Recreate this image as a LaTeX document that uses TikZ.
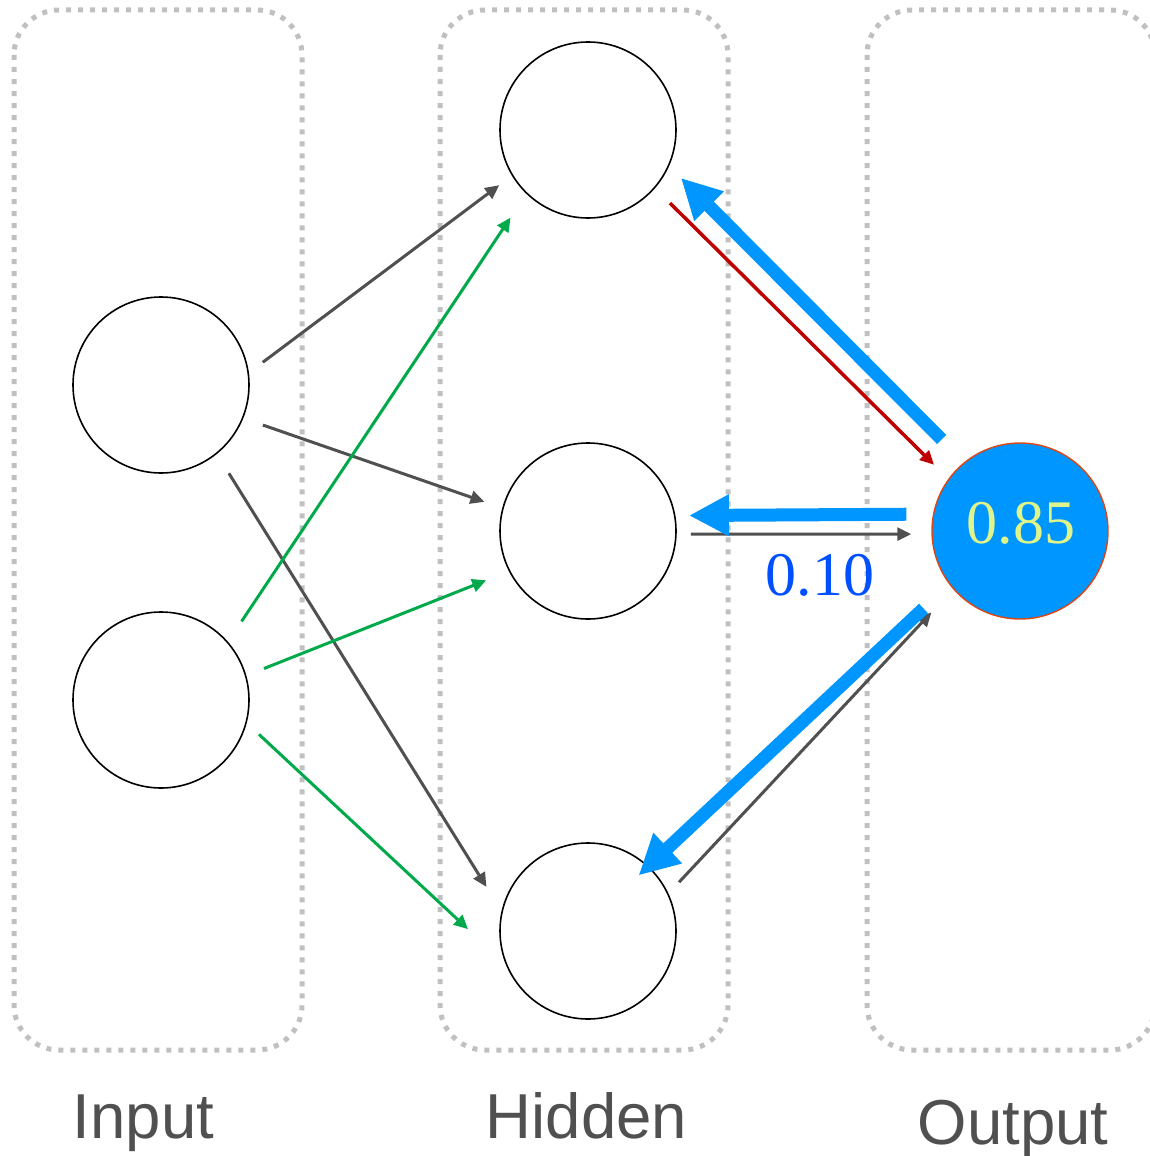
\documentclass[tikz,border=0pt]{standalone}
\usepackage{fontspec}
\newfontfamily\labelfont{Liberation Sans}
\newfontfamily\numfont{Liberation Serif}
\usetikzlibrary{arrows.meta}
\definecolor{boxgray}{RGB}{192,192,192}
\definecolor{edgegray}{RGB}{80,80,80}
\definecolor{edgegreen}{RGB}{0,170,75}
\definecolor{edgered}{RGB}{190,0,0}
\definecolor{backblue}{RGB}{0,150,255}
\definecolor{valblue}{RGB}{0,80,255}
\definecolor{valyellow}{RGB}{222,245,140}
\definecolor{outborder}{RGB}{220,70,20}
\definecolor{labelgray}{RGB}{80,80,80}

\begin{document}
\begin{tikzpicture}[x=1pt,y=-1pt,
  layerbox/.style={draw=boxgray, line width=5pt, dash pattern=on 5pt off 7pt, rounded corners=45pt},
  neuron/.style={circle, draw=black, line width=1.6pt, minimum size=176pt, inner sep=0pt},
  outneuron/.style={neuron, draw=outborder, fill=backblue, line width=1.4pt},
  fwd/.style={line width=3pt, -{Triangle[length=14pt,width=13pt]}},
  back/.style={draw=backblue, line width=13pt, -{Triangle[length=40pt,width=39pt]}},
  layerlabel/.style={text=labelgray, font=\labelfont\fontsize{63.5}{70}\selectfont, anchor=base},
  value/.style={font=\numfont\fontsize{62}{70}\selectfont, anchor=base}
]
\useasboundingbox (0,0) rectangle (1150,1156);

% layer frames
\draw[layerbox] (14,10) rectangle (302,1050);
\draw[layerbox] (440,10) rectangle (728,1050);
\draw[layerbox] (867,10) rectangle (1155,1050);

% neurons
\node[neuron] (I1) at (161,385) {};
\node[neuron] (I2) at (161,700) {};
\node[neuron] (H1) at (588,130) {};
\node[neuron] (H2) at (588,531) {};
\node[neuron] (H3) at (588,931) {};
\node[outneuron] (O) at (1020,531) {};
\node[value, text=valyellow] (outval) at (1021,543) {0.85};

% forward connections from the first input
\draw[fwd, draw=edgegray, fill=edgegray, shorten <=17.3pt, shorten >=15.8pt] (I1.8.3) -- (H1.211.1);
\draw[fwd, draw=edgegray, fill=edgegray, shorten <=20.7pt, shorten >=18.8pt] (I1.-22.2) -- (H2.165.7);
\draw[fwd, draw=edgegray, fill=edgegray, shorten <=22.7pt, shorten >=28.4pt] (I1.-51.3) -- (H3.167.6);

% forward connections from the second input
\draw[fwd, draw=edgegreen, fill=edgegreen, shorten <=24.4pt, shorten >=28.5pt] (I2.41) -- (H1.226);
\draw[fwd, draw=edgegreen, fill=edgegreen, shorten <=19pt, shorten >=24.4pt] (I2.16.6) -- (H2.207.1);
\draw[fwd, draw=edgegreen, fill=edgegreen, shorten <=16.7pt, shorten >=51.5pt] (I2.-15.6) -- (H3.202.7);

% forward connections into the output
\draw[fwd, draw=edgered, fill=edgered, line width=3.5pt, shorten <=21.1pt, shorten >=20pt] (H1.-41.4) -- (O.144.7);
\draw[fwd, draw=edgegray, fill=edgegray, shorten <=14.1pt, shorten >=20.1pt] (H2.-2.6) -- (O.182.6);
\draw[fwd, draw=edgegray, fill=edgegray, shorten <=15.4pt, shorten >=31.7pt] (H3.25.4) -- (O.221.1);

% error flowing back from the output
\draw[back, fill=backblue, shorten <=32pt, shorten >=16.7pt] (O.129) -- (H1.-24.3);
\draw[back, fill=backblue, shorten <=26.5pt, shorten >=13.5pt] (O.169.5) -- (H2.10.5);
\draw[back, fill=backblue, shorten <=35.2pt, shorten >=-13.7pt] (O.217) -- (H3.47);

\node[value, text=valblue] (wval) at (820,595) {0.10};

% layer captions
\node[layerlabel] (inlabel) at (143.5,1138) {Input};
\node[layerlabel] (hidlabel) at (586.5,1138) {Hidden};
\node[layerlabel] (outlabel) at (1013,1144) {Output};
\end{tikzpicture}
\end{document}
